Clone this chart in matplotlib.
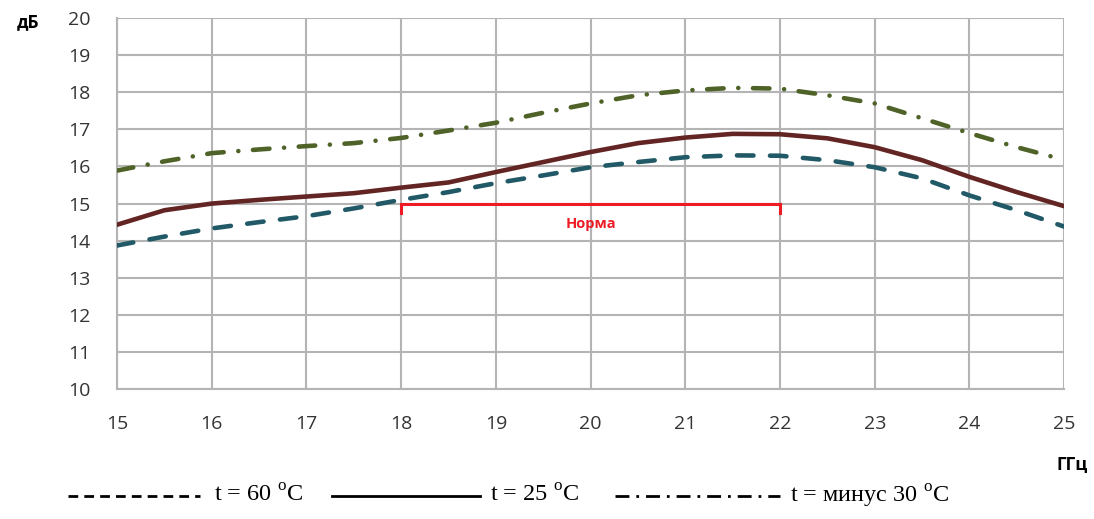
import matplotlib
import matplotlib.pyplot as plt
from matplotlib.lines import Line2D

matplotlib.rcParams['font.family'] = ['Open Sans', 'DejaVu Sans']

# Коэффициент усиления, дБ, по частоте (шаг 0.5 ГГц)
freq = [15, 15.5, 16, 16.5, 17, 17.5, 18, 18.5, 19, 19.5, 20,
        20.5, 21, 21.5, 22, 22.5, 23, 23.5, 24, 24.5, 25]
gain_60 = [13.87, 14.11, 14.33, 14.50, 14.66, 14.87, 15.10, 15.31, 15.55, 15.76, 15.98,
           16.12, 16.25, 16.30, 16.29, 16.17, 15.98, 15.68, 15.22, 14.82, 14.38]
gain_25 = [14.43, 14.82, 15.00, 15.10, 15.19, 15.28, 15.43, 15.57, 15.85, 16.12, 16.39,
           16.63, 16.78, 16.88, 16.87, 16.76, 16.52, 16.17, 15.72, 15.31, 14.93]
gain_m30 = [15.89, 16.14, 16.36, 16.46, 16.55, 16.63, 16.77, 16.97, 17.18, 17.45, 17.70,
            17.92, 18.05, 18.12, 18.10, 17.92, 17.70, 17.30, 16.90, 16.52, 16.18]

norm_x = [18, 22]
norm_level = 15

fig = plt.figure(figsize=(10.94, 5.19), dpi=100)
ax = fig.add_axes([0.107, 0.2505, 0.8657, 0.7145])

ax.plot(freq, gain_m30, color='#4f6228', lw=3.3, dashes=(3.6, 3.2, 0.01, 3.2),
        dash_capstyle='round', solid_joinstyle='round', zorder=3)
ax.plot(freq, gain_25, color='#632523', lw=3.3, solid_capstyle='round',
        solid_joinstyle='round', zorder=4)
ax.plot(freq, gain_60, color='#215967', lw=3.3, dashes=(3.6, 3.6),
        dash_capstyle='round', zorder=3)

# норма
ax.plot(norm_x, [norm_level, norm_level], color='#ed1c24', lw=2.2, zorder=5)
for xx in norm_x:
    ax.plot([xx, xx], [norm_level, norm_level - 0.25], color='#ed1c24', lw=2.2, zorder=5)
ax.text(sum(norm_x) / 2, norm_level - 0.55, 'Норма', color='#ed1c24',
        fontsize=10.5, fontweight='bold', ha='center', va='center')

ax.set_xlim(15, 25)
ax.set_ylim(10, 20)
ax.set_xticks(range(15, 26))
ax.set_yticks(range(10, 21))
ax.grid(True, color='#b4b4b4', lw=1.5)
ax.set_axisbelow(True)
for s in ['top', 'right']:
    ax.spines[s].set_visible(False)
for s in ['left', 'bottom']:
    ax.spines[s].set_color('#b4b4b4')
    ax.spines[s].set_linewidth(1.5)
ax.tick_params(length=0, labelsize=14, colors='#333333')
ax.tick_params(axis='x', pad=19)
ax.tick_params(axis='y', pad=19)

fig.text(0.026, 0.957, 'дБ', fontsize=12.5, fontweight='bold', ha='center', va='center')
fig.text(0.98, 0.105, 'ГГц', fontsize=12.5, fontweight='bold', ha='center', va='center')

# подписи линий внизу
W, H = 1094, 519
serif = ['Liberation Serif', 'DejaVu Serif']
yl = 1 - 496 / H
items = [
    ((68, 200), dict(dashes=(3.5, 2.2)), 214, 't = 60 $^{\\mathregular{o}}$C'),
    ((332, 480), dict(), 490, 't = 25 $^{\\mathregular{o}}$C'),
    ((615, 780), dict(dashes=(5, 2.5, 1, 2.5)), 790, 't = минус 30 $^{\\mathregular{o}}$C'),
]
for (x0, x1), style, tx, label in items:
    fig.add_artist(Line2D([x0 / W, x1 / W], [yl, yl], color='black', lw=2,
                          transform=fig.transFigure, **style))
    fig.text(tx / W, yl, label, fontsize=17.5, family=serif, ha='left', va='center')

fig.savefig('out.png', dpi=100)
